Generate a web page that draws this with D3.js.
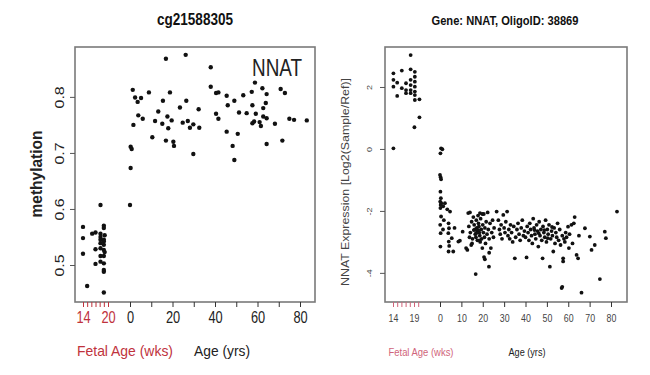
<!DOCTYPE html>
<html>
<head>
<meta charset="utf-8">
<script src="https://cdn.jsdelivr.net/npm/d3@7"></script>
<style>
  body { margin: 0; background: #fff; }
  text { font-family: "Liberation Sans", Arial, sans-serif; }
</style>
</head>
<body>
<div id="chart"></div>
<script>
// ---- left panel: methylation (cg21588305) ----
const leftFetal = [ // [weeks, methylation]
  [14, 0.568], [14, 0.548], [14, 0.520], [15, 0.4625], [16.2, 0.556], [17, 0.558], [17, 0.528],
  [17, 0.502], [18.2, 0.607], [18.2, 0.556], [18.2, 0.550], [18.2, 0.545], [18.2, 0.539],
  [18.2, 0.530], [18.2, 0.516], [18.2, 0.506], [19, 0.570], [19, 0.566], [19, 0.545], [19, 0.542],
  [19, 0.536], [19, 0.527], [19, 0.516], [19, 0.503], [19, 0.491], [19, 0.488], [19, 0.451],
  [19.2, 0.553], [19.2, 0.523]
];
const leftPost = [ // [years, methylation]
  [0, 0.607], [1.3, 0.8125], [2.4, 0.799], [5.2, 0.798], [3.6, 0.791], [8.9, 0.808], [16.9, 0.868],
  [26.2, 0.875], [15.5, 0.793], [18.8, 0.808], [3.9, 0.767], [6.0, 0.761], [1.6, 0.750], [11.8, 0.757],
  [13.3, 0.774], [15.2, 0.752], [17.6, 0.765], [19.6, 0.758], [18.0, 0.744], [23.5, 0.781], [26.5, 0.793],
  [24.8, 0.754], [27.2, 0.757], [29.8, 0.751], [28.2, 0.745], [32.6, 0.745], [32.3, 0.778], [10.5, 0.728],
  [16.9, 0.722], [20.4, 0.720], [20.7, 0.7125], [29.8, 0.698], [0.3, 0.711], [0.8, 0.707], [0.3, 0.673],
  [38.0, 0.853], [38.0, 0.818], [40.5, 0.807], [41.6, 0.808], [45.5, 0.802], [46.0, 0.785], [40.5, 0.770],
  [41.6, 0.761], [49.1, 0.793], [53.3, 0.803], [51.3, 0.772], [54.9, 0.771], [45.5, 0.738], [50.7, 0.734],
  [48.3, 0.7125], [49.1, 0.6875], [57.3, 0.809], [58.8, 0.8255], [62.3, 0.8155], [64.3, 0.805],
  [57.6, 0.785], [63.9, 0.789], [62.7, 0.780], [59.2, 0.770], [62.7, 0.765], [64.3, 0.762], [57.6, 0.753],
  [58.4, 0.756], [61.0, 0.755], [61.6, 0.748], [68.2, 0.752], [64.3, 0.716], [70.9, 0.814], [72.9, 0.807],
  [71.7, 0.722], [75.0, 0.761], [77.2, 0.759], [83.2, 0.758]
];
const leftYTicks = [0.5, 0.6, 0.7, 0.8];
const leftAgeLabels = [0, 20, 40, 60, 80];
const leftWeekLabels = [14, 20];

// ---- right panel: expression (NNAT, OligoID 38869) ----
const rightFetal = [ // [weeks, log2 ratio]
  [18.2, 3.03], [14.1, 2.44], [14.1, 2.23], [14.1, 2.01], [15, 1.71], [15, 2.14], [16.1, 2.53], [16.1, 1.96],
  [17.1, 2.12], [17.1, 1.90], [17.1, 1.80], [18.2, 2.57], [18.2, 2.23], [18.2, 2.06], [18.2, 1.90], [18.2, 1.80],
  [19.2, 2.49], [19.2, 2.33], [19.2, 2.17], [19.2, 2.01], [19.2, 1.85], [19.2, 1.74], [19.2, 1.58],
  [20.3, 1.60], [20.3, 1.02], [19.1, 0.70], [14.1, 0.02]
];
const rightPost = [ // [years, log2 ratio]
  [0.5, 0.02], [1.1, -0.01], [0.2, -0.14], [0, -0.84], [0.3, -0.91], [0.5, -0.98], [0.2, -1.38], [0.4, -1.59],
  [0.1, -1.70], [0.6, -1.75], [0.3, -1.81], [0.2, -1.91], [0.5, -2.18], [0.1, -2.45], [0.3, -2.72], [0.2, -3.15],
  [1.5, -1.85], [1.8, -2.3], [1.4, -2.6], [2.3, -1.75], [3.4, -1.95], [4.7, -2.02], [4, -2.40], [4.2, -2.56],
  [3.9, -2.72], [4.1, -2.99], [4.3, -3.13], [4, -3.31], [6.2, -3.31], [5.5, -2.88], [6.8, -2.55], [8.6, -2.99],
  [9.3, -2.96], [10.6, -2.67],
  [12.2, -3.2], [12.8, -3.26], [13.2, -2.07], [14, -2.05], [13.5, -2.5], [14.2, -2.7], [14.8, -2.35], [15.2, -2.9],
  [15, -3.05], [15.6, -2.2], [16, -2.45], [16.3, -2.6], [16.5, -2.75], [16.8, -2.85], [17, -2.3], [17.2, -2.55],
  [17.4, -2.65], [17.5, -2.95], [17.8, -2.15], [18, -2.4], [18.2, -2.5], [18.4, -2.7], [18.6, -2.8], [18.8, -3.0],
  [19, -2.25], [19.3, -2.6], [19.5, -2.9], [19.8, -3.2], [20, -2.45], [20.3, -2.7], [20.5, -2.1], [20.8, -2.85],
  [21, -2.55], [21.3, -3.05], [21.6, -2.35], [22, -2.75], [22.3, -2.05], [22.6, -2.6], [23, -2.9], [23.4, -2.4],
  [23.8, -3.2], [24.2, -2.7], [24.6, -2.3], [25, -2.85], [25.3, -2.55], [18.7, -2.07], [19.8, -2.10],
  [16.7, -4.04], [23, -3.35], [22.9, -3.80], [20.6, -3.49], [21, -3.56], [15.8, -2.62], [16.9, -2.72],
  [17.9, -2.62], [18.5, -2.95], [13.8, -2.85], [14.6, -3.1],
  [26.5, -2.02], [27.3, -2.3], [27.8, -2.6], [28.2, -2.75], [28.6, -2.45], [29, -2.9], [29.6, -2.13], [30, -2.55],
  [30.4, -2.7], [30.8, -2.35], [31.4, -2.02], [31.8, -2.8], [32.2, -2.6], [32.6, -2.9], [33, -2.45], [33.5, -2.7],
  [34, -3.0], [34.5, -2.5], [35, -3.53], [35.4, -2.85], [36, -2.6], [36.5, -2.4], [37, -2.75], [37.5, -2.95],
  [38, -2.55], [38.5, -2.3], [39, -2.8], [39.5, -2.65],
  [40, -2.85], [40.5, -3.5], [40.8, -2.5], [41.2, -2.7], [41.6, -2.95], [42, -2.4], [42.4, -2.6], [42.8, -2.8],
  [43.2, -3.05], [43.6, -2.25], [44, -2.55], [44.4, -2.75], [44.8, -2.9], [45.2, -2.45], [45.6, -2.65], [46, -3.15],
  [46.4, -2.35], [46.8, -2.8], [47.2, -2.6], [47.6, -2.95], [48, -3.53], [48.2, -2.5], [48.6, -2.7], [49, -2.85],
  [49.4, -2.3], [49.8, -3.0], [50.2, -2.6], [50.6, -2.75], [51, -2.45], [51.4, -3.8], [51.8, -2.9], [52.2, -2.65],
  [52.6, -2.8], [53, -3.31], [53.4, -2.55], [53.8, -3.05], [54.2, -2.7], [54.6, -2.85], [55, -2.4],
  [44.2, -2.62], [46.2, -2.72], [48.8, -2.62], [50.4, -2.88], [52.4, -2.52],
  [55.5, -2.95], [56, -2.6], [56.4, -3.1], [56.9, -4.49], [57.2, -4.45], [57.2, -2.8], [57.6, -3.53],
  [57.6, -3.63], [58, -2.9], [58.4, -3.0], [58.8, -2.7], [59.2, -2.85], [59.9, -2.51], [60.3, -3.2],
  [60.6, -2.75], [61.5, -2.45], [62, -3.05], [62.6, -2.4], [63, -2.2], [63.9, -3.42], [64.6, -3.53], [65, -2.8],
  [66.2, -4.64], [67.8, -2.56], [70.1, -2.83], [70.9, -3.26], [72.4, -3.10], [74.8, -4.20], [77.1, -2.67],
  [77.6, -2.88], [82.8, -2.02]
];
const rightYTicks = [-4, -2, 0, 2];
const rightAgeLabels = [0, 10, 20, 30, 40, 50, 60, 70, 80];
const rightWeekLabels = [14, 19];
const weekTicks = [14, 15, 16, 17, 18, 19, 20];
const ageTicks = [0, 10, 20, 30, 40, 50, 60, 70, 80];

const red = "#c0323c";
const squeeze = 0.8;

const svg = d3.select("#chart").append("svg")
  .attr("width", 650)
  .attr("height", 375);

function panel(opt) {
  const g = svg.append("g");
  const y = d3.scaleLinear().domain(opt.yDomain).range([302, 47]);
  const xa = d3.scaleLinear().domain([0, 80]).range(opt.ageRange);
  const xw = d3.scaleLinear().domain(opt.weekDomain).range(opt.weekRange);

  // dots
  g.selectAll(".fd").data(opt.fetal).enter().append("circle")
    .attr("cx", d => xw(d[0])).attr("cy", d => y(d[1]))
    .attr("r", opt.r).attr("fill", "#111");
  g.selectAll(".pd").data(opt.post).enter().append("circle")
    .attr("cx", d => xa(d[0])).attr("cy", d => y(d[1]))
    .attr("r", opt.r).attr("fill", "#111");

  // box
  g.append("rect")
    .attr("x", opt.box[0]).attr("y", 47)
    .attr("width", opt.box[1] - opt.box[0]).attr("height", 255)
    .attr("fill", "none").attr("stroke", "#7a7a7a").attr("stroke-width", 1.6);

  // y axis, labels parallel to axis like R
  const yAx = g.append("g")
    .attr("transform", "translate(" + opt.box[0] + ",0)")
    .call(d3.axisLeft(y).tickValues(opt.yTicks).tickSize(5).tickFormat(d => d));
  yAx.select(".domain").remove();
  yAx.selectAll("line").attr("stroke", "#555");
  yAx.selectAll("text")
    .attr("x", null).attr("dy", null)
    .attr("y", -opt.yLabelOff / squeeze)
    .attr("transform", "scale(" + squeeze + ",1) rotate(-90)")
    .style("text-anchor", "middle")
    .style("font-size", opt.yTickFont + "px")
    .attr("fill", opt.tickColor);

  // age axis
  const aAx = g.append("g")
    .attr("transform", "translate(0,302)")
    .call(d3.axisBottom(xa).tickValues(ageTicks).tickSize(5)
      .tickFormat(d => opt.ageLabels.includes(d) ? d : ""));
  aAx.select(".domain").remove();
  aAx.selectAll("line").attr("stroke", "#333");
  aAx.selectAll("text")
    .attr("y", opt.xLabelOff).attr("dy", "0.71em")
    .attr("transform", "scale(" + squeeze + ",1)")
    .style("font-size", opt.tickFont + "px")
    .attr("fill", opt.tickColor);

  // fetal axis
  const wAx = g.append("g")
    .attr("transform", "translate(0,302)")
    .call(d3.axisBottom(xw).tickValues(weekTicks).tickSize(5)
      .tickFormat(d => opt.weekLabels.includes(d) ? d : ""));
  wAx.select(".domain").remove();
  wAx.selectAll("line").attr("stroke", opt.red);
  wAx.selectAll("text")
    .attr("y", opt.xLabelOff).attr("dy", "0.71em")
    .attr("transform", "scale(" + squeeze + ",1)")
    .style("font-size", opt.tickFont + "px")
    .attr("fill", opt.weekLabelColor);

  // titles
  g.append("text")
    .attr("x", opt.title.x - opt.title.w / 2).attr("y", 25)
    .attr("textLength", opt.title.w).attr("lengthAdjust", "spacingAndGlyphs")
    .style("font-size", opt.title.size + "px").style("font-weight", "bold")
    .attr("fill", "#111")
    .text(opt.title.text);

  g.append("text")
    .attr("transform", "translate(" + opt.ylab.x + "," + opt.ylab.y + ") rotate(-90)")
    .attr("x", -opt.ylab.w / 2)
    .attr("textLength", opt.ylab.w).attr("lengthAdjust", "spacingAndGlyphs")
    .style("font-size", opt.ylab.size + "px")
    .style("font-weight", opt.ylab.weight)
    .attr("fill", opt.ylab.color)
    .text(opt.ylab.text);

  g.append("text")
    .attr("x", opt.fetalLab.x - opt.fetalLab.w / 2).attr("y", 356)
    .attr("textLength", opt.fetalLab.w).attr("lengthAdjust", "spacingAndGlyphs")
    .style("font-size", opt.fetalLab.size + "px")
    .attr("fill", opt.red)
    .text("Fetal Age (wks)");

  g.append("text")
    .attr("x", opt.ageLab.x - opt.ageLab.w / 2).attr("y", 356)
    .attr("textLength", opt.ageLab.w).attr("lengthAdjust", "spacingAndGlyphs")
    .style("font-size", opt.ageLab.size + "px")
    .attr("fill", "#222")
    .text("Age (yrs)");

  return g;
}

const left = panel({
  fetal: leftFetal, post: leftPost,
  yDomain: [0.434, 0.889], yTicks: leftYTicks,
  ageRange: [130, 300], weekDomain: [14, 20], weekRange: [83, 108],
  ageLabels: leftAgeLabels, weekLabels: leftWeekLabels,
  box: [75, 315], r: 2.2, tickFont: 16, yTickFont: 16, yLabelOff: 11, xLabelOff: 10,
  tickColor: "#222", red: red, weekLabelColor: red,
  title: { text: "cg21588305", x: 195, w: 76, size: 16 },
  ylab: { text: "methylation", x: 42, y: 174, w: 87, size: 16, weight: "bold", color: "#222" },
  fetalLab: { x: 125, w: 96, size: 15 },
  ageLab: { x: 222, w: 56, size: 15 }
});

left.append("text")
  .attr("x", 252).attr("y", 76)
  .attr("textLength", 50).attr("lengthAdjust", "spacingAndGlyphs")
  .style("font-size", "23px")
  .attr("fill", "#222")
  .text("NNAT");

panel({
  fetal: rightFetal, post: rightPost,
  yDomain: [-4.94, 3.29], yTicks: rightYTicks,
  ageRange: [440, 611], weekDomain: [14, 19], weekRange: [393, 414],
  ageLabels: rightAgeLabels, weekLabels: rightWeekLabels,
  box: [385, 627], r: 1.9, tickFont: 11, yTickFont: 9, yLabelOff: 13, xLabelOff: 12,
  tickColor: "#444", red: "#d0647a", weekLabelColor: "#444",
  title: { text: "Gene: NNAT, OligoID: 38869", x: 505, w: 147, size: 12 },
  ylab: { text: "NNAT Expression [Log2(Sample/Ref)]", x: 349, y: 182, w: 208, size: 10, weight: "normal", color: "#444" },
  fetalLab: { x: 421, w: 65, size: 10 },
  ageLab: { x: 527, w: 37, size: 10 }
});
</script>
</body>
</html>
